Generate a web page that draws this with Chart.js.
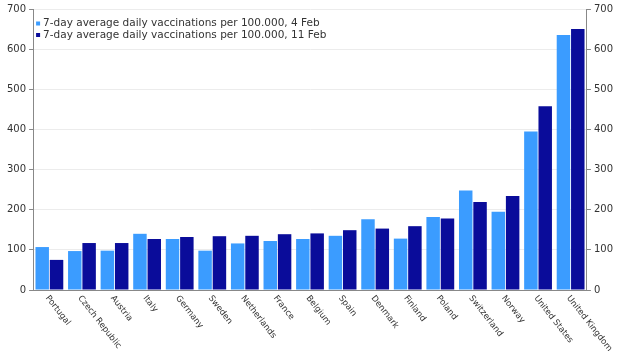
<!DOCTYPE html>
<html>
<head>
<meta charset="utf-8">
<script src="https://cdn.jsdelivr.net/npm/chart.js@4/dist/chart.umd.min.js"></script>
<style>
  html, body { margin: 0; padding: 0; background: #fff; }
  #wrap { width: 620px; height: 351px; position: relative; }
</style>
</head>
<body>
<div id="wrap"><canvas id="vaxChart"></canvas></div>
<script>
// countries along the x axis
const countries = [
  "Portugal", "Czech Republic", "Austria", "Italy", "Germany", "Sweden",
  "Netherlands", "France", "Belgium", "Spain", "Denmark", "Finland",
  "Poland", "Switzerland", "Norway", "United States", "United Kingdom"
];
// 7-day average daily vaccinations per 100.000
const feb4 = [107, 97, 98, 140, 127, 98, 116, 122, 127, 135, 176, 128, 182, 248, 195, 395, 635];
const feb11 = [75, 117, 117, 127, 132, 134, 135, 139, 141, 149, 153, 159, 178, 219, 234, 458, 650];
const seriesLabels = [
  "7-day average daily vaccinations per 100.000, 4 Feb",
  "7-day average daily vaccinations per 100.000, 11 Feb"
];
const seriesColors = ["#3b9cff", "#0a0c9a"];
const yTicks = [0, 100, 200, 300, 400, 500, 600, 700];

const FONT = "'DejaVu Sans', Verdana, sans-serif";

// x labels in the picture run downwards to the right, starting at the tick
const slantLabels = {
  id: "slantLabels",
  afterDraw(chart) {
    const ctx = chart.ctx;
    const xs = chart.scales.x;
    const y0 = chart.chartArea.bottom + 4;
    ctx.save();
    ctx.font = "8.5px " + FONT;
    ctx.fillStyle = "#333";
    ctx.textAlign = "left";
    ctx.textBaseline = "top";
    countries.forEach((name, i) => {
      const x = xs.getPixelForValue(i) + 1;
      ctx.save();
      ctx.translate(x, y0);
      ctx.rotate(52 * Math.PI / 180);
      ctx.fillText(name, 0, 0);
      ctx.restore();
    });
    ctx.restore();
  }
};

// small legend sitting inside the plot, top left
const innerLegend = {
  id: "innerLegend",
  afterDraw(chart) {
    const ctx = chart.ctx;
    const a = chart.chartArea;
    ctx.save();
    ctx.font = "10.5px " + FONT;
    ctx.textAlign = "left";
    ctx.textBaseline = "middle";
    seriesLabels.forEach((txt, i) => {
      const y = a.top + 14.5 + i * 11.5;
      ctx.fillStyle = seriesColors[i];
      ctx.fillRect(a.left + 3, y - 2, 4, 4);
      ctx.fillStyle = "#333";
      ctx.fillText(txt, a.left + 10, y);
    });
    ctx.restore();
  }
};

new Chart(document.getElementById("vaxChart").getContext("2d"), {
  type: "bar",
  data: {
    labels: countries,
    datasets: [
      { label: seriesLabels[0], data: feb4, backgroundColor: seriesColors[0], yAxisID: "y" },
      { label: seriesLabels[1], data: feb11, backgroundColor: seriesColors[1], yAxisID: "y" }
    ]
  },
  options: {
    responsive: true,
    maintainAspectRatio: false,
    animation: false,
    categoryPercentage: 0.88,
    barPercentage: 0.94,
    layout: { padding: { top: 4, left: 4, right: 4, bottom: 61 } },
    plugins: {
      tooltip: { enabled: false },
      legend: { display: false }
    },
    scales: {
      x: {
        grid: { display: false, drawTicks: false },
        border: { color: "#888" },
        ticks: { display: false }
      },
      y: {
        position: "left",
        min: 0, max: 700,
        afterBuildTicks: s => { s.ticks = yTicks.map(v => ({ value: v })); },
        grid: { color: "#ececec", tickLength: 4, tickColor: "#888" },
        border: { color: "#888" },
        ticks: { font: { family: FONT, size: 10 }, color: "#333", padding: 3 }
      },
      y2: {
        position: "right",
        min: 0, max: 700,
        afterBuildTicks: s => { s.ticks = yTicks.map(v => ({ value: v })); },
        grid: { drawOnChartArea: false, tickLength: 4, tickColor: "#888" },
        border: { color: "#888" },
        ticks: { font: { family: FONT, size: 10 }, color: "#333", padding: 3 }
      }
    }
  },
  plugins: [slantLabels, innerLegend]
});
</script>
</body>
</html>
